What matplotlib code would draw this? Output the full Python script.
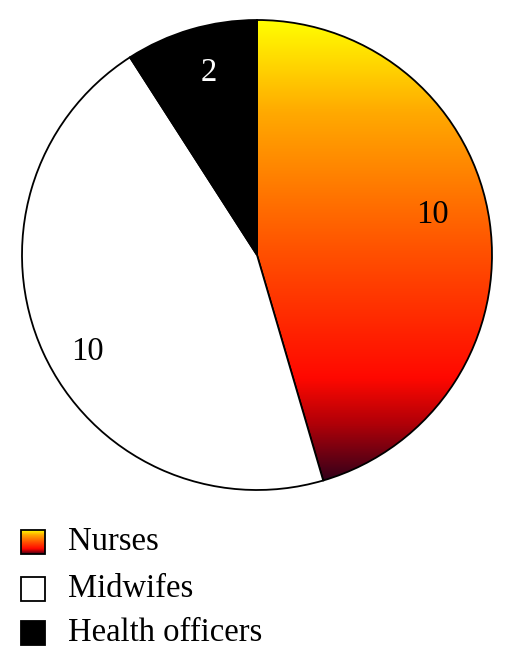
import numpy as np
import matplotlib
matplotlib.use("Agg")
import matplotlib.pyplot as plt
from matplotlib.colors import LinearSegmentedColormap
from matplotlib.patches import Rectangle

categories = ["Nurses", "Midwifes", "Health officers"]
values = [10, 10, 2]
label_texts = ["10", "10", "2"]

W, H = 513, 667
fig = plt.figure(figsize=(W / 100, H / 100), dpi=100)
ax = fig.add_axes([0, 0, 1, 1])
ax.set_xlim(0, W)
ax.set_ylim(0, H)
ax.set_aspect("equal")
ax.set_axis_off()

grad = LinearSegmentedColormap.from_list(
    "nurse",
    [(0.0, "#FFFF00"), (0.2, "#FFAA00"), (0.5, "#FF5200"), (0.78, "#FF0800"),
     (0.88, "#B00008"), (1.0, "#35001A")])

cx, cy, r = 257, H - 255, 235
wedges, _ = ax.pie(values, startangle=90, counterclock=False, center=(cx, cy),
                   radius=r, colors=["none", "white", "black"],
                   wedgeprops=dict(edgecolor="black", linewidth=1.3), frame=True)
ax.set_xlim(0, W)
ax.set_ylim(0, H)
ax.set_axis_off()

# gradient fill for nurses wedge
bb_top = cy + r
theta_end = 90 - 360 * values[0] / sum(values)
y_bottom = cy + r * np.sin(np.deg2rad(theta_end))
g = np.linspace(0, 1, 256).reshape(-1, 1)
im = ax.imshow(g, cmap=grad, aspect="auto", extent=(cx, cx + r, y_bottom, bb_top),
               origin="upper", zorder=0.5)
im.set_clip_path(wedges[0])
wedges[0].set_zorder(1)

font = "Liberation Serif"
fs = 23.5
ax.text(432, H - 215, label_texts[0], fontsize=fs, family=font, ha="center", va="center", color="black")
ax.text(87, H - 352, label_texts[1], fontsize=fs, family=font, ha="center", va="center", color="black")
ax.text(209, H - 73, label_texts[2], fontsize=fs, family=font, ha="center", va="center", color="white")

# legend
ys = [542, 589, 633]
sz = 24
for i, (cat, y) in enumerate(zip(categories, ys)):
    x0, y0 = 21, H - y - sz / 2
    if i == 0:
        ax.imshow(g, cmap=grad, aspect="auto", extent=(x0, x0 + sz, y0, y0 + sz),
                  origin="upper", zorder=2)
        ax.add_patch(Rectangle((x0, y0), sz, sz, facecolor="none", edgecolor="black", lw=1.3, zorder=3))
    else:
        ax.add_patch(Rectangle((x0, y0), sz, sz, facecolor=["white", "white", "black"][i],
                               edgecolor="black", lw=1.3, zorder=3))
    ax.text(68, H - y, cat, fontsize=fs, family=font, ha="left", va="center", color="black")

ax.set_xlim(0, W)
ax.set_ylim(0, H)
fig.savefig("out.png", dpi=100)
